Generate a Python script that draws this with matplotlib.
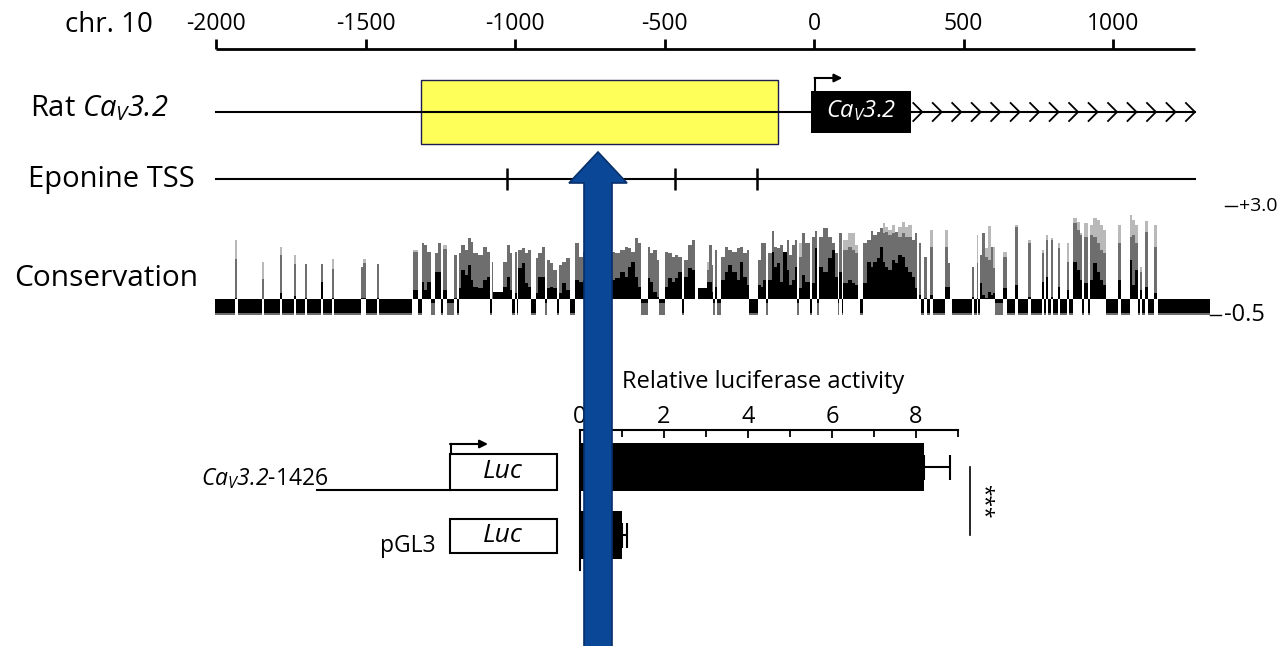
import numpy as np
import matplotlib
matplotlib.use("Agg")
import matplotlib.pyplot as plt
from matplotlib.patches import Rectangle, FancyArrow

plt.rcParams['font.family'] = ['Open Sans', 'DejaVu Sans']
# gene names are fully italic (digits too), so both math fonts are italic
plt.rcParams['mathtext.fontset'] = 'custom'
plt.rcParams['mathtext.rm'] = 'Open Sans:italic'
plt.rcParams['mathtext.it'] = 'Open Sans:italic'

# ---- data -------------------------------------------------------------
ruler_ticks = [-2000, -1500, -1000, -500, 0, 500, 1000]
track_start, track_end = -2000, 1274
enhancer = (-1314, -122)          # highlighted (yellow) region, bp
exon1 = (-10, 323)                # first exon box, bp
eponine_tss = [-1026, -465, -191]

# conservation track: contiguous segments (bp edges) with 3 shade levels
cons_edges = [
    -2004, -1937, -1935, -1930, -1926, -1847, -1840, -1786, -1779, -1739,
    -1732, -1702, -1696, -1650, -1643, -1612, -1605, -1516, -1508, -1500,
    -1462, -1456, -1345, -1342, -1326, -1312, -1303, -1295, -1282, -1266,
    -1256, -1247, -1240, -1226, -1203, -1195, -1187, -1181, -1167, -1156,
    -1147, -1139, -1123, -1106, -1095, -1084, -1078, -1072, -1039, -1028,
    -1017, -1011, -1000, -994, -989, -978, -967, -955, -946, -931,
    -922, -909, -900, -894, -883, -872, -861, -853, -844, -831,
    -816, -799, -786, -771, -665, -649, -632, -621, -612, -599,
    -590, -580, -556, -548, -537, -526, -518, -498, -487, -476,
    -465, -454, -443, -434, -420, -409, -398, -389, -359, -350,
    -342, -337, -331, -323, -312, -298, -287, -275, -259, -248,
    -236, -225, -216, -186, -178, -169, -162, -153, -142, -134,
    -123, -114, -103, -91, -83, -75, -64, -56, -49, -41,
    -30, -13, -7, 3, 11, 18, 31, 48, 59, 70,
    79, 85, 93, 98, 115, 126, 137, 148, 154, 165,
    176, 190, 198, 210, 221, 230, 238, 249, 260, 271,
    282, 293, 304, 315, 327, 338, 346, 352, 359, 368,
    377, 388, 397, 438, 447, 455, 463, 527, 536, 544,
    550, 555, 563, 572, 581, 583, 592, 600, 605, 633,
    644, 672, 681, 717, 726, 761, 770, 776, 784, 793,
    800, 815, 823, 845, 853, 867, 879, 890, 897, 904,
    915, 923, 934, 945, 957, 968, 976, 1018, 1027, 1057,
    1065, 1074, 1083, 1089, 1096, 1107, 1116, 1138, 1147, 1152,
    1324]
cons_light = [
    -0.5, 0, 1.89, 0, -0.5, 1.20, -0.5, 1.65, -0.5, 1.41,
    -0.5, 1.11, -0.5, 1.11, -0.5, 1.27, -0.5, 1.04, 1.27, -0.5,
    1.11, -0.5, 0, 1.57, -0.5, 1.80, 1.73, 1.52, -0.5, 1.46,
    1.80, -0.5, 1.73, -0.5, 1.41, -0.5, 1.46, 1.73, 1.57, 1.94,
    1.84, 1.46, 1.41, 1.65, 1.52, -0.5, 1.20, 0.24, 1.20, 1.73,
    1.46, -0.5, 1.52, -0.5, 1.57, 1.62, 1.46, 1.57, -0.5, 1.30,
    1.46, 1.65, -0.5, 1.25, 1.15, 0.93, -0.5, 1.09, 1.20, 1.30,
    -0.5, 1.78, 1.36, 1.50, 1.46, 1.57, 1.68, 1.62, 1.52, 1.94,
    1.78, -0.5, 1.68, 1.46, 1.57, 1.25, -0.5, 1.52, 1.46, 1.36,
    1.41, 1.36, -0.5, 1.25, 1.73, 1.89, 0, 0.35, 1.20, 1.73,
    1.09, -0.5, 1.57, -0.5, 1.36, 1.68, 1.57, 1.52, 1.62, 1.65,
    1.46, 1.57, -0.5, 1.25, 1.78, 1.80, -0.5, 1.46, 2.18, 1.68,
    1.62, 1.73, 1.52, 1.89, 1.41, 1.73, 1.89, -0.5, 1.78, 2.10,
    1.80, -0.5, 1.99, 2.18, -0.5, 1.99, 2.26, 1.99, 1.78, 1.46,
    -0.5, 2.10, -0.5, 1.89, 2.10, 2.10, 1.73, 0, -0.5, 1.78,
    1.89, 2.18, 2.05, 2.15, 2.26, 2.42, 2.31, 2.21, 2.37, 2.15,
    2.31, 2.47, 2.31, 2.37, 1.89, 2.10, 0, 1.78, -0.5, 1.36,
    -0.5, 2.21, -0.5, 2.21, 1.15, 0, -0.5, 1.04, -0.5, 2.05,
    -0.5, 1.41, 2.10, 1.62, 0, 2.33, 1.68, 1.68, -0.5, 1.52,
    -0.5, 2.37, -0.5, 1.89, -0.5, 1.57, -0.5, 2.05, -0.5, 1.96,
    -0.5, 1.80, -0.5, 1.80, -0.5, 2.58, 2.47, 2.10, -0.5, 2.42,
    -0.5, 2.37, 2.58, 2.53, 2.37, 2.21, -0.5, 2.37, -0.5, 2.68,
    2.53, 2.37, -0.5, 1.04, -0.5, 2.50, -0.5, 2.37, 0, -0.5]
cons_mid = [
    -0.5, 0, 1.27, 0, -0.5, 0.64, -0.5, 1.41, -0.5, 1.12,
    -0.5, 1.11, -0.5, 1.11, -0.5, 0.96, -0.5, 1.04, 1.17, -0.5,
    1.11, -0.5, 0, 1.50, -0.5, 1.80, 1.73, 1.52, -0.5, 1.46,
    1.80, -0.5, 1.60, -0.5, 1.41, -0.5, 1.46, 1.73, 1.57, 1.94,
    1.84, 1.46, 1.41, 1.65, 1.52, -0.5, 1.20, 0.24, 1.20, 1.73,
    1.46, -0.5, 1.52, -0.5, 1.57, 1.62, 1.46, 1.57, -0.5, 1.30,
    1.46, 1.65, -0.5, 1.25, 1.15, 0.93, -0.5, 1.09, 1.20, 1.30,
    -0.5, 1.78, 1.36, 1.50, 1.46, 1.57, 1.68, 1.62, 1.52, 1.94,
    1.78, -0.5, 1.68, 1.46, 1.57, 1.25, -0.5, 1.52, 1.46, 1.36,
    1.41, 1.36, -0.5, 1.25, 1.73, 1.89, 0, 0.35, 0.93, 1.73,
    1.09, -0.5, 1.57, -0.5, 1.36, 1.68, 1.57, 1.52, 1.62, 1.65,
    1.46, 1.57, -0.5, 1.25, 1.78, 1.80, -0.5, 1.46, 2.18, 1.68,
    1.62, 1.73, 1.52, 1.89, 1.41, 1.73, 1.89, -0.5, 1.36, 2.10,
    1.78, -0.5, 1.99, 2.18, -0.5, 1.99, 2.26, 1.99, 1.78, 1.46,
    -0.5, 2.10, -0.5, 1.57, 1.68, 1.57, 1.46, 0, -0.5, 1.78,
    1.89, 2.18, 2.05, 2.15, 2.26, 2.10, 2.15, 2.05, 2.10, 2.15,
    1.99, 2.10, 1.99, 1.99, 1.89, 2.10, 0, 1.78, -0.5, 1.36,
    -0.5, 1.68, -0.5, 1.68, 1.15, 0, -0.5, 1.04, -0.5, 1.15,
    -0.5, 1.41, 2.10, 1.36, 0, 1.25, 1.68, 1.00, -0.5, 1.36,
    -0.5, 2.31, -0.5, 1.78, -0.5, 1.46, -0.5, 1.89, -0.5, 1.89,
    -0.5, 1.62, -0.5, 1.20, -0.5, 2.42, 2.21, 2.05, -0.5, 1.99,
    -0.5, 2.05, 1.99, 1.78, 1.57, 1.46, -0.5, 1.78, -0.5, 1.99,
    2.05, 1.78, -0.5, 0.88, -0.5, 2.15, -0.5, 1.68, 0, -0.5]
cons_dark = [
    -0.45, 0, 0.05, 0, -0.45, 0, -0.45, 0.19, -0.45, 0.10,
    -0.45, 0.05, -0.45, 0.56, -0.45, 0.05, -0.45, 0.05, 0.05, -0.45,
    0.05, -0.45, 0, 0.30, -0.45, 0.56, 0.30, 0.56, -0.12, 0.88,
    0.88, -0.45, 0.30, -0.12, 0.05, -0.45, 0.35, 0.93, 0.77, 1.09,
    0.61, 0.40, 0.35, 0.61, 0.72, -0.45, 0, 0.24, 0.40, 0.72,
    0.30, -0.45, 0.20, -0.45, 1.00, 1.15, 0.51, 0.40, -0.45, 0.19,
    0.72, 0.72, -0.12, 0.35, 0.40, 0.35, -0.45, 0.19, 0.51, 0.30,
    -0.45, 0.61, 0.56, 0.60, 0.67, 0.88, 0.72, 1.04, 1.20, 0.72,
    0.40, -0.12, 0.67, 0.56, 0.24, 0.08, -0.12, 0.40, 0.67, 0.56,
    0.67, 0.88, -0.45, 0.72, 0.99, 0.93, 0, 0.35, 0.56, 0.56,
    0.24, -0.12, 0.40, -0.12, 0.61, 0.88, 1.09, 0.88, 0.61, 1.20,
    0.72, 0.46, -0.45, 0.46, 0.40, 0.61, -0.12, 0.61, 1.52, 1.04,
    1.15, 0.56, 1.52, 0.93, 0.46, 0.61, 1.04, -0.12, 0.35, 0.77,
    0.56, -0.45, 0.51, 1.62, -0.12, 1.04, 0.88, 1.30, 1.57, 0.72,
    -0.12, 0.88, -0.45, 0.51, 0.61, 0.51, 0.46, 0, -0.45, 0.51,
    1.20, 1.04, 1.20, 1.30, 1.68, 1.20, 1.04, 0.93, 1.25, 1.15,
    1.40, 1.36, 1.04, 0.88, 0.72, 0.35, 0, 0.14, -0.45, 0.05,
    -0.45, 0.14, -0.45, 0.40, 0.40, 0, -0.45, 0.08, -0.45, 0.05,
    -0.45, 0.51, 0.14, 0.05, 0, 0.24, 0.14, 0.19, -0.12, 0.35,
    -0.45, 0.46, -0.45, 0.08, -0.45, 0.56, -0.45, 0.72, -0.45, 0.08,
    -0.45, 0.40, -0.45, 0.30, -0.45, 1.20, 0.93, 0.61, -0.45, 0.51,
    -0.45, 0.61, 1.15, 0.88, 0.61, 0.46, -0.45, 0.61, -0.45, 1.25,
    0.46, 0.93, -0.45, 0.30, -0.45, 0.40, -0.45, 0.19, 0, -0.45]

# luciferase assay
constructs = ['CaV3.2-1426', 'pGL3']
luc_activity = [8.2, 1.0]
luc_err = [0.62, 0.12]

assert len(cons_edges) - 1 == len(cons_light) == len(cons_mid) == len(cons_dark)

# ---- figure -----------------------------------------------------------
W, H = 1279, 646
fig = plt.figure(figsize=(W / 100, H / 100), dpi=100)

PX_PER_BP = 0.299
ZERO_PX = 814
gen_lim = (-ZERO_PX / PX_PER_BP, (W - ZERO_PX) / PX_PER_BP)

# genomic panel: x in bp, y in pixel rows
ax_gen = fig.add_axes([0, 0, 1, 1])
ax_gen.set_xlim(gen_lim)
ax_gen.set_ylim(H, 0)
ax_gen.axis('off')

# ruler
ax_gen.plot([track_start, track_end], [49, 49], color='k', lw=2, solid_capstyle='butt')
ax_gen.vlines(ruler_ticks, 39, 49, color='k', lw=2)
for t in ruler_ticks:
    ax_gen.text(t, 24, str(t), ha='center', va='center', fontsize=16.5)

# gene row
ax_gen.plot([track_start, track_end], [112, 112], color='k', lw=1.5)
ax_gen.add_patch(Rectangle((enhancer[0], 80), enhancer[1] - enhancer[0], 64,
                           facecolor=(1, 1, 0.1, 0.72), edgecolor='#1c1c50', lw=1))
ax_gen.add_patch(Rectangle((exon1[0], 91), exon1[1] - exon1[0], 42, facecolor='k'))
ax_gen.text((exon1[0] + exon1[1]) / 2, 111, r'$Ca_V3.2$', color='white',
            ha='center', va='center', fontsize=17)
ax_gen.plot([3, 3], [91, 78], color='k', lw=1.5)
ax_gen.annotate('', xy=(95, 78), xytext=(2, 78),
                arrowprops=dict(arrowstyle='-|>', color='k', lw=1.5,
                                mutation_scale=12, shrinkA=0, shrinkB=0))
# transcription direction chevrons
for tip in np.linspace(362, track_end, 15):
    ax_gen.plot([tip - 30, tip, tip - 30], [103, 112, 121], color='k', lw=1.3)

# eponine row
ax_gen.plot([track_start, track_end], [179, 179], color='k', lw=1.5)
ax_gen.vlines(eponine_tss, 168, 190, color='k', lw=1.8)

# conservation track
ax_cons = fig.add_axes([0, 1 - 320 / H, 1, 120 / H])
ax_cons.set_xlim(gen_lim)
ax_cons.set_ylim(-0.659, 3.162)
ax_cons.axis('off')
left = np.array(cons_edges[:-1])
widths = np.diff(cons_edges)
ax_cons.bar(left, cons_light, width=widths, align='edge', color='#b9b9b9', lw=0)
ax_cons.bar(left, cons_mid, width=widths, align='edge', color='#6e6e6e', lw=0)
ax_cons.bar(left, cons_dark, width=widths, align='edge', color='black', lw=0)
ax_cons.plot([1375, 1415], [2.97, 2.97], color='k', lw=1, clip_on=False)
ax_cons.text(1422, 2.97, '+3.0', va='center', fontsize=14, clip_on=False)
ax_cons.plot([1324, 1361], [-0.5, -0.5], color='k', lw=1, clip_on=False)
ax_cons.text(1372, -0.5, '-0.5', va='center', fontsize=17, clip_on=False)

# luciferase bar chart
ax_bar = fig.add_axes([580 / W, 1 - 570 / H, 378 / W, 140 / H])
ax_bar.set_zorder(5)
ax_bar.patch.set_alpha(0)
ax_bar.barh([0, 1], luc_activity, height=0.72, color='black')
ax_bar.errorbar(luc_activity, [0, 1], xerr=[[0, 0], luc_err], fmt='none',
                ecolor='k', elinewidth=1.5, capsize=9, capthick=1.5)
ax_bar.set_xlim(0, 9)
ax_bar.set_ylim(1.515, -0.544)
for s in ['right', 'bottom']:
    ax_bar.spines[s].set_visible(False)
for s in ['top', 'left']:
    ax_bar.spines[s].set_linewidth(1.5)
ax_bar.xaxis.tick_top()
ax_bar.set_xticks([0, 2, 4, 6, 8])
ax_bar.set_xticks([1, 3, 5, 7, 9], minor=True)
ax_bar.tick_params(axis='x', which='both', direction='in', top=True, bottom=False,
                   labelsize=17, pad=1)
ax_bar.tick_params(axis='x', which='major', length=6, width=1.3)
ax_bar.tick_params(axis='x', which='minor', length=5, width=1.3)
ax_bar.set_yticks([])
ax_bar.plot([9.29, 9.29], [0, 1], color='k', lw=1.2, clip_on=False)
ax_bar.text(9.6, 0.5, '***', rotation=-90, ha='center', va='center',
            fontsize=15, clip_on=False)

# pixel overlay for labels, constructs and the arrow
ax_px = fig.add_axes([0, 0, 1, 1])
ax_px.set_zorder(10)
ax_px.patch.set_alpha(0)
ax_px.set_xlim(0, W)
ax_px.set_ylim(H, 0)
ax_px.axis('off')

ax_px.text(65, 25, 'chr. 10', ha='left', va='center', fontsize=20)
ax_px.text(30, 108, r'Rat $Ca_V3.2$', ha='left', va='center', fontsize=21)
ax_px.text(28, 180, 'Eponine TSS', ha='left', va='center', fontsize=21)
ax_px.text(14, 278, 'Conservation', ha='left', va='center', fontsize=21.5)
ax_px.text(763, 382, 'Relative luciferase activity', ha='center', va='center', fontsize=17)

# reporter constructs
ax_px.add_patch(Rectangle((450, 454), 107, 36, facecolor='white', edgecolor='k', lw=1.5))
ax_px.add_patch(Rectangle((450, 519), 107, 34, facecolor='white', edgecolor='k', lw=1.5))
ax_px.text(503, 471, 'Luc', style='italic', ha='center', va='center', fontsize=19)
ax_px.text(503, 535, 'Luc', style='italic', ha='center', va='center', fontsize=19)
ax_px.plot([317, 450], [490, 490], color='k', lw=1.5)
ax_px.plot([451, 451], [454, 444], color='k', lw=1.5)
ax_px.annotate('', xy=(488, 444), xytext=(450, 444),
               arrowprops=dict(arrowstyle='-|>', color='k', lw=1.5,
                               mutation_scale=12, shrinkA=0, shrinkB=0))
ax_px.text(328, 479, r'$Ca_V3.2$-1426', ha='right', va='center', fontsize=16.5)
ax_px.text(436, 546, constructs[1], ha='right', va='center', fontsize=16.5)

ax_px.add_patch(FancyArrow(598, 660, 0, -508, width=28, head_width=58, head_length=31,
                           length_includes_head=True, facecolor='#0b4797',
                           edgecolor='#08306b', lw=1.2))

fig.savefig('out.png', dpi=100)
plt.close(fig)
